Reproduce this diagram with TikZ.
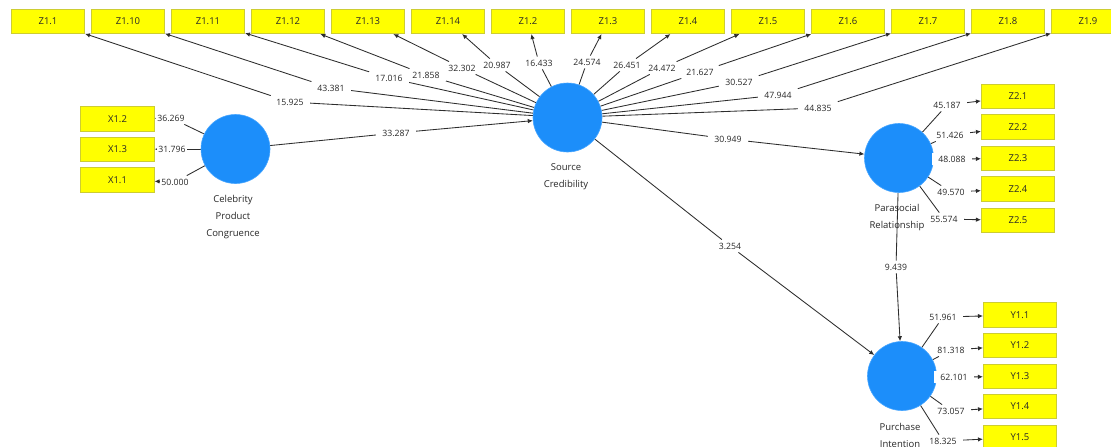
\documentclass[tikz,border=0pt]{standalone}
\usepackage{fontspec}
\setmainfont{Open Sans}
\usetikzlibrary{arrows.meta}
\pgfdeclarelayer{bg}
\pgfdeclarelayer{edges}
\pgfsetlayers{bg,edges,main}
\definecolor{lvblue}{RGB}{28,142,250}
\definecolor{lvrim}{RGB}{70,165,255}
\definecolor{mvyellow}{RGB}{255,255,0}
\definecolor{mvrim}{RGB}{205,205,50}
\definecolor{edgecol}{RGB}{45,45,45}
\definecolor{txt}{RGB}{40,40,40}
\begin{document}
\begin{tikzpicture}[x=1pt,y=-1pt,
  lv/.style={circle, fill=lvblue, draw=lvrim, line width=0.6pt, minimum size=69pt, inner sep=0pt},
  mv/.style={rectangle, fill=mvyellow, draw=mvrim, line width=0.6pt, minimum width=73.5pt, minimum height=24.5pt, inner sep=0pt, font=\fontsize{9.5}{10}\selectfont, text=txt},
  wt/.style={fill=white, inner xsep=6pt, inner ysep=3pt, font=\fontsize{8.7}{10}\selectfont, text=txt},
  wtx/.style={wt, inner xsep=1pt},
  lvname/.style={align=center, font=\fontsize{9.5}{17}\selectfont, text=txt},
  edge/.style={draw=edgecol, line width=0.85pt},
  arr/.style={edge, -{Latex[length=5pt,width=4.5pt]}},
]
\useasboundingbox (0,0) rectangle (1111,447);
\begin{pgfonlayer}{bg}
  \fill[white] (0,0) rectangle (1111,447);
\end{pgfonlayer}
\clip (0,0) rectangle (1111,447);

% latent variables
\node[lv] (CPC) at (235.5,149) {};
\node[lv] (SC) at (567.5,117.5) {};
\node[lv] (PR) at (899,158) {};
\node[lv] (PI) at (902,376) {};

\node[lvname] (CPCn) at (233,217) {Celebrity\\Product\\Congruence};
\node[lvname] (SCn) at (566,176.5) {Source\\Credibility};
\node[lvname] (PRn) at (897,217.5) {Parasocial\\Relationship};
\node[lvname] (PIn) at (900,435) {Purchase\\Intention};

% structural paths
\node[wt] (b1) at (396,133) {33.287};
\node[wt] (b2) at (728,139) {30.949};
\node[wt] (b3) at (730,246) {3.254};
\node[wt] (b4) at (896,267) {9.439};
\begin{pgfonlayer}{edges}
  \draw[edge] (CPC) -- (b1);
  \draw[arr] (b1) -- (SC);
  \draw[edge] (SC) -- (b2);
  \draw[arr] (b2) -- (PR);
  \draw[edge] (SC) -- (b3);
  \draw[arr] (b3) -- (PI);
  \draw[edge] (PR) -- (b4);
  \draw[arr] (b4) -- (PI);
\end{pgfonlayer}

% Source Credibility indicators
\foreach \i/\nm/\v/\lx/\ly in {0/Z1.1/15.925/290/102, 1/Z1.10/43.381/331/88,
  2/Z1.11/17.016/389/78, 3/Z1.12/21.858/426/75, 4/Z1.13/32.302/462/68,
  5/Z1.14/20.987/497/65, 6/Z1.2/16.433/539/63, 7/Z1.3/24.574/587/62,
  8/Z1.4/26.451/627/65, 9/Z1.5/24.472/662/68, 10/Z1.6/21.627/700/72,
  11/Z1.7/30.527/739/82, 12/Z1.8/47.944/778/95, 13/Z1.9/44.835/818/108}{
  \node[mv] (z\i) at (48+80*\i,21.5) {\nm};
  \node[wt] (zl\i) at (\lx,\ly) {\v};
  \begin{pgfonlayer}{edges}
    \draw[edge] (SC) -- (zl\i);
    \draw[arr] (zl\i) -- (z\i);
  \end{pgfonlayer}
}

% Celebrity Product Congruence indicators
\foreach \i/\nm/\by/\v/\lx/\ly in {12/X1.2/119/36.269/171/118,
  13/X1.3/149.5/31.796/172/149, 11/X1.1/180/50.000/175/182}{
  \node[mv] (x\i) at (117.5,\by) {\nm};
  \node[wtx] (xl\i) at (\lx,\ly) {\v};
  \begin{pgfonlayer}{edges}
    \draw[edge] (CPC) -- (xl\i);
    \draw[arr] (xl\i) -- (x\i);
  \end{pgfonlayer}
}

% Parasocial Relationship indicators
\foreach \i/\by/\v/\lx/\ly in {1/96.5/45.187/947/105, 2/127/51.426/950/135,
  3/158.5/48.088/952/159, 4/189/49.570/951/192, 5/220.5/55.574/944/219}{
  \node[mv] (p\i) at (1018,\by) {Z2.\i};
  \node[wt] (pl\i) at (\lx,\ly) {\v};
  \begin{pgfonlayer}{edges}
    \draw[edge] (PR) -- (pl\i);
    \draw[arr] (pl\i) -- (p\i);
  \end{pgfonlayer}
}

% Purchase Intention indicators
\foreach \i/\by/\v/\lx/\ly in {1/315/51.961/943/317, 2/345.5/81.318/951/350,
  3/376.5/62.101/954/377, 4/406.5/73.057/951/411, 5/437.5/18.325/943/441}{
  \node[mv] (y\i) at (1020,\by) {Y1.\i};
  \node[wt] (yl\i) at (\lx,\ly) {\v};
  \begin{pgfonlayer}{edges}
    \draw[edge] (PI) -- (yl\i);
    \draw[arr] (yl\i) -- (y\i);
  \end{pgfonlayer}
}
\end{tikzpicture}
\end{document}
